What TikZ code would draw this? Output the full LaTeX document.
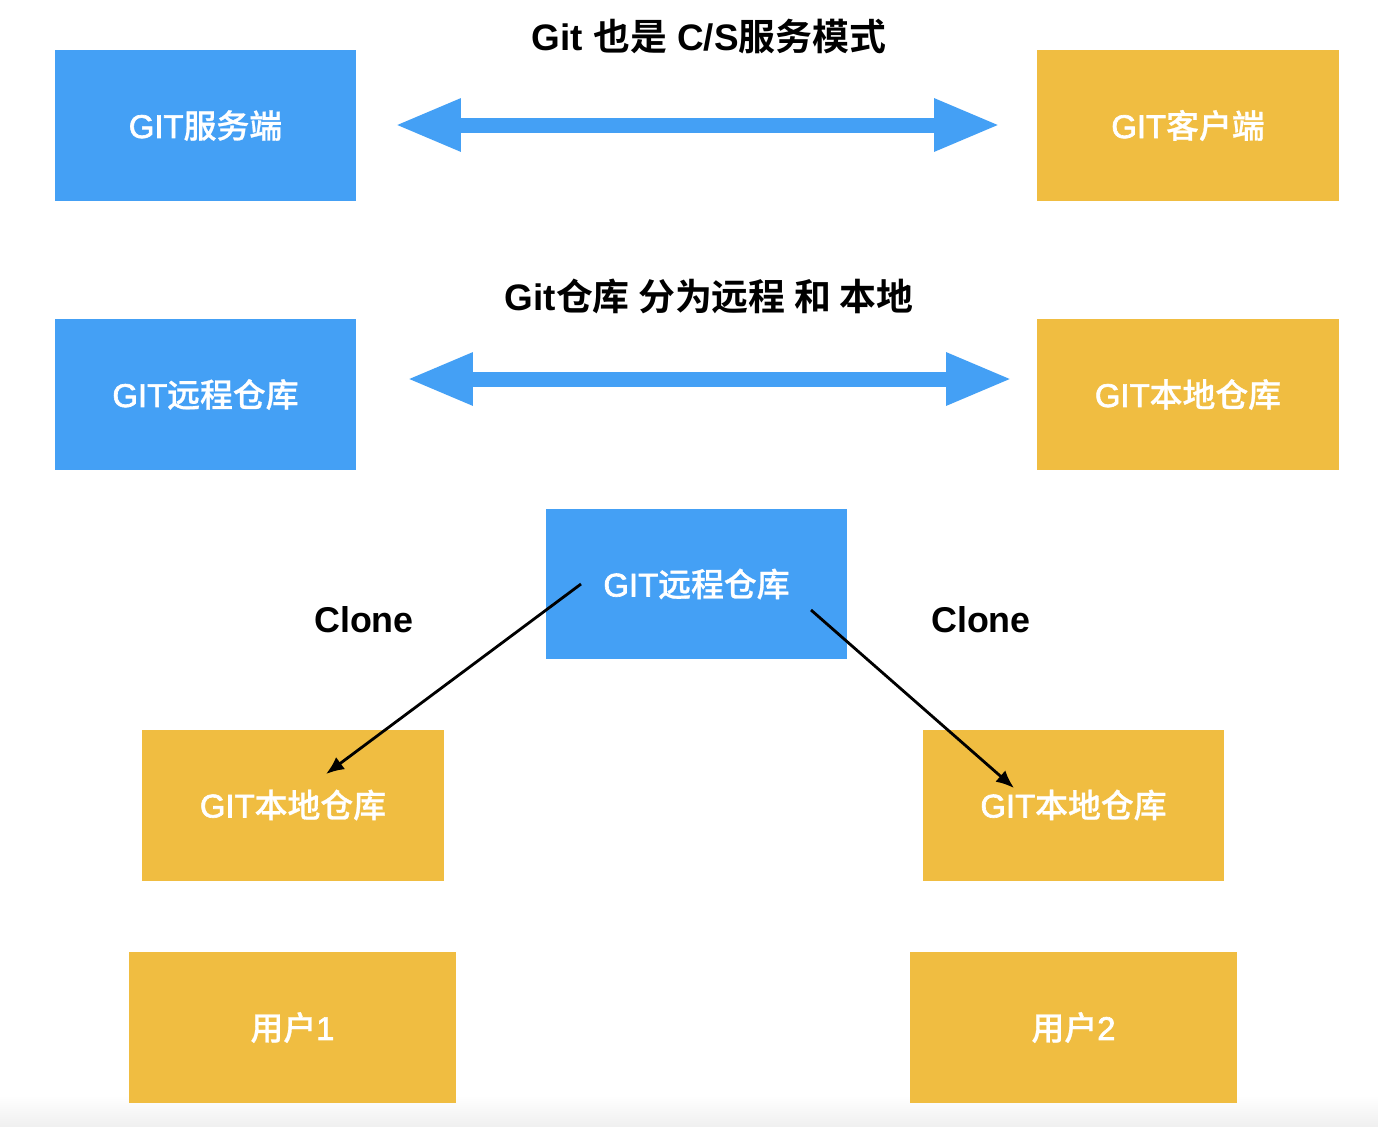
\documentclass[tikz,border=0pt]{standalone}
\usepackage{fontspec}
\setmainfont{Liberation Sans}
\newfontfamily\cjk{Noto Sans CJK SC Medium}[FakeBold=0.8]
\newfontfamily\cjkb{Noto Sans CJK SC Bold}
\newfontfamily\lat{Liberation Sans}[FakeBold=2]
\newfontfamily\latb{Liberation Sans Bold}
\usetikzlibrary{arrows.meta}
\definecolor{gblue}{RGB}{68,160,245}
\definecolor{gyellow}{RGB}{240,189,65}
\newcommand{\bx}[2]{{\lat #1}{\cjk #2}}
\tikzset{
  px/.style={x=0.02cm,y=-0.02cm},
  bluebox/.style={fill=gblue,draw=none,minimum width=6.04cm,minimum height=3.02cm,text=white,font=\fontsize{18.7}{22}\selectfont,inner sep=0pt},
  yellowbox/.style={bluebox,fill=gyellow},
  titletext/.style={font=\fontsize{21}{25}\selectfont,text=black},
  clonetext/.style={font=\fontsize{20.4}{24}\selectfont\latb,text=black},
  bigarrow/.style={draw=gblue,line width=0.3cm,{Triangle[width=0.98cm,length=1.32cm]}-{Triangle[width=0.98cm,length=1.32cm]}},
  thinarrow/.style={draw=black,line width=1.6pt,-{Latex[length=0.36cm,width=0.3cm]}}
}
\begin{document}
\begin{tikzpicture}[px]
\useasboundingbox (0,0) rectangle (1378,1126);
\fill[white] (0,0) rectangle (1378,1126);
\shade[top color=white,bottom color=black!6,draw=none] (0,1096) rectangle (1378,1126);
% row 1
\node[bluebox] (srv) at (205.5,125.5) {\bx{GIT}{服务端}};
\node[yellowbox] (cli) at (1188,125.5) {\bx{GIT}{客户端}};
\node[titletext] (t1) at (709,36) {{\latb Git }{\cjkb 也是}{\latb\ C/S}{\cjkb 服务模式}};
\coordinate (a1l) at (395,125);
\coordinate (a1r) at (1000,125);
\draw[bigarrow] (a1l) -- (a1r);
% row 2
\node[bluebox] (rem) at (205.5,394.5) {\bx{GIT}{远程仓库}};
\node[yellowbox] (loc) at (1188,394.5) {\bx{GIT}{本地仓库}};
\node[titletext] (t2) at (709,296) {{\latb Git}{\cjkb 仓库 分为远程 和 本地}};
\coordinate (a2l) at (407,379);
\coordinate (a2r) at (1012,379);
\draw[bigarrow] (a2l) -- (a2r);
% row 3
\node[bluebox] (crem) at (696.5,584) {\bx{GIT}{远程仓库}};
\node[yellowbox] (loc1) at (293,805) {\bx{GIT}{本地仓库}};
\node[yellowbox] (loc2) at (1073.5,805) {\bx{GIT}{本地仓库}};
\node[yellowbox,minimum width=6.54cm] (u1) at (292.5,1027.5) {{\cjk 用户}{\lat 1}};
\node[yellowbox,minimum width=6.54cm] (u2) at (1073.5,1027.5) {{\cjk 用户}{\lat 2}};
\node[clonetext] (c1) at (364,620) {Clone};
\node[clonetext] (c2) at (981,620) {Clone};
\coordinate (s1) at (581,584);
\coordinate (e1) at (326,774);
\coordinate (s2) at (811,610);
\coordinate (e2) at (1014,788);
\draw[thinarrow] (s1) -- (e1);
\draw[thinarrow] (s2) -- (e2);
\end{tikzpicture}
\end{document}
